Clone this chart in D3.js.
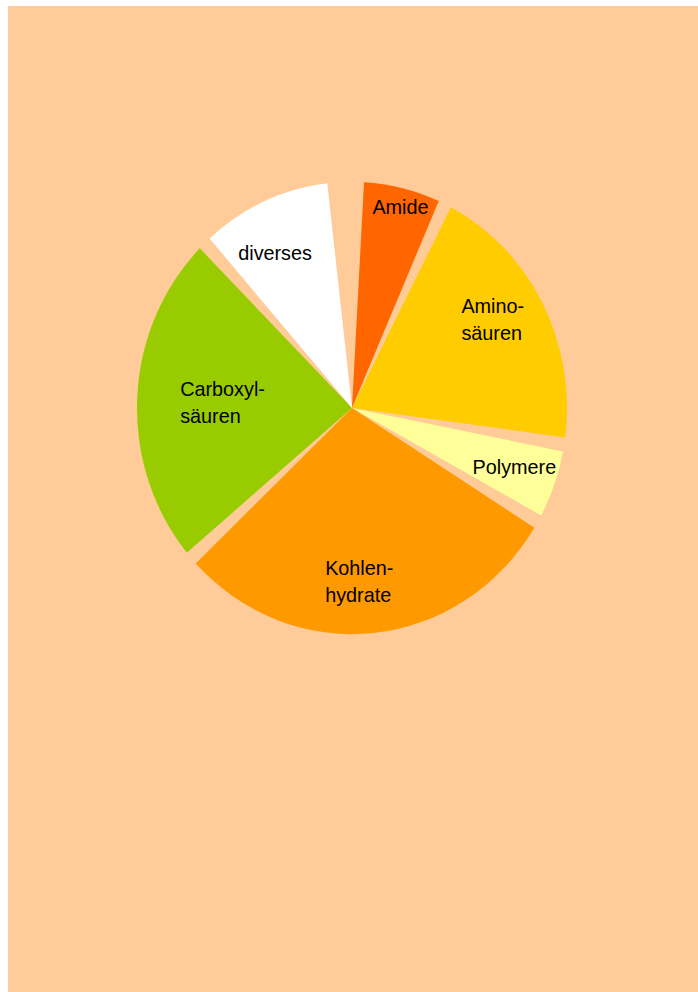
<!DOCTYPE html>
<html>
<head>
<meta charset="utf-8">
<script src="https://cdn.jsdelivr.net/npm/d3@7"></script>
<style>
  html, body { margin: 0; padding: 0; background: #ffffff; }
  svg { display: block; }
</style>
</head>
<body>
<svg id="chart" width="698" height="992"></svg>
<script>
// Zusammensetzung (Anteile in %), im Uhrzeigersinn ab 12 Uhr
const categories = ["Amide", "Aminosäuren", "Polymere", "Kohlenhydrate", "Carboxylsäuren", "diverses"];
const labelLines = [["Amide"], ["Amino-", "säuren"], ["Polymere"], ["Kohlen-", "hydrate"], ["Carboxyl-", "säuren"], ["diverses"]];
const shares = [6.2, 21.1, 5.2, 31.5, 25.5, 10.5];
const colors = ["#FF6600", "#FFCC00", "#FFFF99", "#FF9900", "#99CC00", "#FFFFFF"];

// Layout
const W = 698, H = 992;
const cx = 352, cy = 408;
const R = 215;            // radius
const stretchY = 1.052;   // vertical stretch of the whole pie
const deg = Math.PI / 180;
const fontSize = 19.8;
const lineStep = 25.7;
// label anchor: angular shift from the slice bisector (deg) and distance from centre
const labelLayout = [
  { da: 1.2, r: 191 },
  { da: -5.0, r: 167 },
  { da: 1.3, r: 174 },
  { da: 3.1, r: 159 },
  { da: 2.6, r: 130 },
  { da: -4.7, r: 160 }
];

const svg = d3.select("#chart");

svg.append("rect")
  .attr("x", 8).attr("y", 6)
  .attr("width", W - 8).attr("height", H - 6)
  .attr("fill", "#FFCC99");

const data = categories.map((c, i) => ({ name: c, value: shares[i], lines: labelLines[i], color: colors[i], lay: labelLayout[i] }));

const pie = d3.pie()
  .sort(null)
  .value(d => d.value)
  .startAngle(1.4 * deg)
  .endAngle(355.2 * deg)
  .padAngle(3.6 * deg);

const arc = d3.arc().innerRadius(0).outerRadius(R);

const g = svg.append("g")
  .attr("transform", `translate(${cx},${cy}) scale(1,${stretchY})`);

const arcs = pie(data);

g.selectAll("path.slice")
  .data(arcs)
  .join("path")
  .attr("class", "slice")
  .attr("d", arc)
  .attr("fill", d => d.data.color)
  .attr("stroke", "none");

const labels = g.selectAll("g.label")
  .data(arcs)
  .join("g")
  .attr("class", "label")
  .attr("transform", d => {
    const a = (d.startAngle + d.endAngle) / 2 + d.data.lay.da * deg;
    const r = d.data.lay.r;
    return `translate(${r * Math.sin(a)},${-r * Math.cos(a)})`;
  });

labels.each(function(d) {
  const lg = d3.select(this);
  const t = lg.append("text")
    .attr("font-family", "'Liberation Sans', Arial, Helvetica, sans-serif")
    .attr("font-size", fontSize)
    .attr("fill", "#000000")
    .attr("text-anchor", "start");
  d.data.lines.forEach((ln, i) => {
    t.append("tspan").attr("x", 0).attr("y", i * lineStep).text(ln);
  });
  let maxW = 0;
  t.selectAll("tspan").each(function() { maxW = Math.max(maxW, this.getComputedTextLength()); });
  t.selectAll("tspan").attr("x", -maxW / 2);
});
</script>
</body>
</html>
